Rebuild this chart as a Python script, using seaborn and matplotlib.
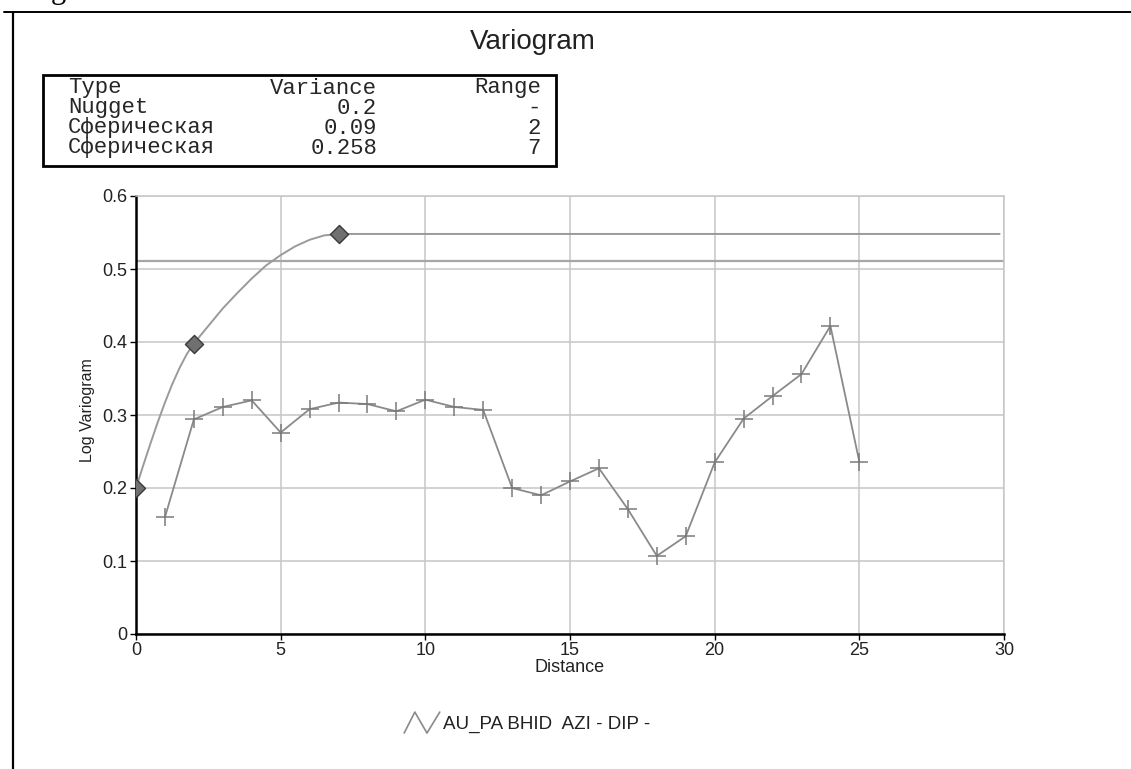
import matplotlib
matplotlib.use("Agg")
import matplotlib.pyplot as plt
import seaborn as sns
import pandas as pd
from matplotlib.lines import Line2D
from matplotlib.patches import Rectangle
from matplotlib.legend_handler import HandlerBase

# ---------------- data ----------------
lag_distance = [1, 2, 3, 4, 5, 6, 7, 8, 9, 10, 11, 12, 13, 14, 15, 16, 17, 18, 19, 20, 21, 22, 23, 24, 25]
lag_gamma = [0.160, 0.294, 0.311, 0.320, 0.276, 0.308, 0.317, 0.315, 0.305, 0.321, 0.311, 0.307,
             0.200, 0.190, 0.209, 0.227, 0.171, 0.107, 0.134, 0.235, 0.295, 0.326, 0.356, 0.422, 0.236]

model_distance = [0, 0.25, 0.5, 0.75, 1, 1.25, 1.5, 1.75, 2, 2.5, 3, 3.5, 4, 4.5, 5, 5.5, 6, 6.5, 7, 29.85]
model_gamma = [0.200, 0.231, 0.261, 0.290, 0.317, 0.342, 0.364, 0.383, 0.398, 0.422, 0.446, 0.467,
               0.487, 0.505, 0.519, 0.531, 0.540, 0.546, 0.548, 0.548]

range_marker_distance = [0, 2, 7]
range_marker_gamma = [0.200, 0.397, 0.548]

sample_variance = 0.511

table_header = ["Type", "Variance", "Range"]
comp_types = ["Nugget", "Сферическая", "Сферическая"]
comp_variance = ["0.2", "0.09", "0.258"]
comp_range = ["-", "2", "7"]

x_ticks = [0, 5, 10, 15, 20, 25, 30]
y_ticks = [0, 0.1, 0.2, 0.3, 0.4, 0.5, 0.6]
y_tick_labels = ["0", "0.1", "0.2", "0.3", "0.4", "0.5", "0.6"]

title_text = "Variogram"
x_label = "Distance"
y_label = "Log Variogram"
legend_label = "AU_PA BHID  AZI - DIP -"

# ---------------- style ----------------
sns.set_theme(style="whitegrid")
plt.rcParams["font.family"] = ["Liberation Sans", "DejaVu Sans"]

W, H = 1131, 769
fig = plt.figure(figsize=(W / 100, H / 100), dpi=100)
fig.patch.set_facecolor("white")

def fx(px):
    return px / W

def fy(py):
    return 1 - py / H

ax_left, ax_right, ax_top, ax_bottom = 136, 1004, 196, 634
ax = fig.add_axes([fx(ax_left), fy(ax_bottom), (ax_right - ax_left) / W, (ax_bottom - ax_top) / H])
ax.set_facecolor("white")

grid_c = "#c6c6c6"
ax.grid(True, color=grid_c, lw=1.1)
ax.set_axisbelow(True)

ax.axhline(sample_variance, color="#a6a6a6", lw=1.6, zorder=1.5)

df_lag = pd.DataFrame({"distance": lag_distance, "gamma": lag_gamma})
df_model = pd.DataFrame({"distance": model_distance, "gamma": model_gamma})
df_rng = pd.DataFrame({"distance": range_marker_distance, "gamma": range_marker_gamma})

sns.lineplot(data=df_model, x="distance", y="gamma", ax=ax, color="#9a9a9a", lw=1.4,
             estimator=None, sort=False, zorder=3)
sns.lineplot(data=df_lag, x="distance", y="gamma", ax=ax, color="#8a8a8a", lw=1.3,
             marker="+", markersize=13, markeredgewidth=1.1, markeredgecolor="#7a7a7a",
             estimator=None, sort=False, zorder=4)
sns.scatterplot(data=df_rng, x="distance", y="gamma", ax=ax, marker="D", s=85,
                color="#707070", edgecolor="#3a3a3a", linewidth=1.0, zorder=5)

ax.set_xlim(0, 30)
ax.set_ylim(0, 0.6)
ax.set_xticks(x_ticks)
ax.set_yticks(y_ticks)
ax.set_yticklabels(y_tick_labels)
ax.tick_params(axis="both", which="major", direction="out", length=4, width=1,
               color="black", labelsize=13, labelcolor="#222222", pad=2,
               bottom=True, left=True)

for s in ["left", "bottom"]:
    ax.spines[s].set_color("black")
    ax.spines[s].set_linewidth(1.8)
for s in ["top", "right"]:
    ax.spines[s].set_color(grid_c)
    ax.spines[s].set_linewidth(1.1)

ax.set_xlabel(x_label, fontsize=13, color="#222222")
ax.xaxis.set_label_coords(0.5, -0.056)
ax.set_ylabel(y_label, fontsize=11.5, color="#222222",
              family=["Liberation Sans Narrow", "Liberation Sans"])
ax.yaxis.set_label_coords(-0.047, 0.51)

# title
fig.text(fx(533), fy(42), title_text, ha="center", va="center", fontsize=20, color="#222222")

# model table
fig.add_artist(Rectangle((fx(42.5), fy(166)), (556 - 42.5) / W, (166 - 75) / H,
                         transform=fig.transFigure, fill=False, ec="black", lw=2))
mono = ["Liberation Mono", "DejaVu Sans Mono"]
rows_y = [88, 108, 128, 148]
col_type_x, col_var_x, col_rng_x = 68, 377, 541
tfs = 16
fig.text(fx(col_type_x), fy(rows_y[0]), table_header[0], ha="left", va="center", fontsize=tfs, family=mono)
fig.text(fx(col_var_x), fy(rows_y[0]), table_header[1], ha="right", va="center", fontsize=tfs, family=mono)
fig.text(fx(col_rng_x), fy(rows_y[0]), table_header[2], ha="right", va="center", fontsize=tfs, family=mono)
for i in range(len(comp_types)):
    yy = fy(rows_y[i + 1])
    fig.text(fx(col_type_x), yy, comp_types[i], ha="left", va="center", fontsize=tfs, family=mono)
    fig.text(fx(col_var_x), yy, comp_variance[i], ha="right", va="center", fontsize=tfs, family=mono)
    fig.text(fx(col_rng_x), yy, comp_range[i], ha="right", va="center", fontsize=tfs, family=mono)

# legend with zigzag icon
class ZigZagHandler(HandlerBase):
    def create_artists(self, legend, orig_handle, xdescent, ydescent, width, height, fontsize, trans):
        x0, y0 = -xdescent, -ydescent
        xs = [x0, x0 + 0.3 * width, x0 + 0.64 * width, x0 + width]
        ys = [y0 - 0.35 * height, y0 + 1.25 * height, y0 - 0.35 * height, y0 + 1.25 * height]
        ln = Line2D(xs, ys, color="#8a8a8a", lw=1.2)
        ln.set_transform(trans)
        return [ln]

proxy = Line2D([], [], color="#8a8a8a")
fig.legend(handles=[proxy], labels=[legend_label], loc="center",
           bbox_to_anchor=(fx(527), fy(724)), frameon=False, fontsize=13.5,
           handler_map={proxy: ZigZagHandler()}, handlelength=1.9, handletextpad=0.15,
           labelcolor="#222222")

# page frame lines and cut-off caption glyph
fig.add_artist(Line2D([fx(4), 1], [fy(12), fy(12)], transform=fig.transFigure, color="black", lw=1.4))
fig.add_artist(Line2D([fx(12.5), fx(12.5)], [0, fy(12)], transform=fig.transFigure, color="black", lw=1.6))
fig.text(fx(58), fy(-2), "g", ha="center", va="baseline", fontsize=22,
         family=["Liberation Serif", "DejaVu Serif"], color="black")

fig.savefig("out.png", dpi=100)
